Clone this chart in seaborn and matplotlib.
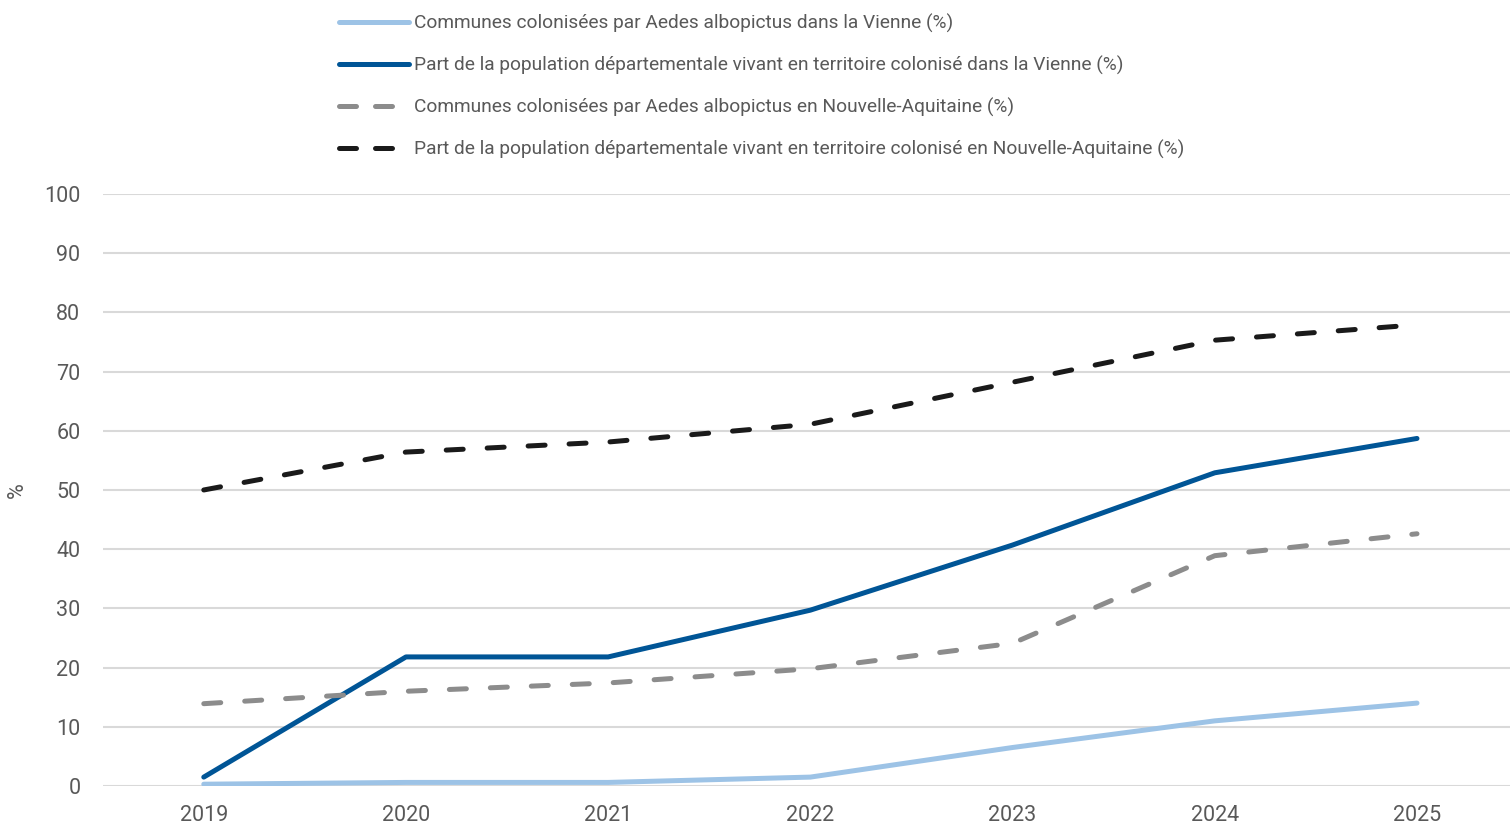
import matplotlib
matplotlib.use("Agg")
import matplotlib.pyplot as plt
from matplotlib.lines import Line2D
import seaborn as sns
import pandas as pd

# Données (%)
annees = [2019, 2020, 2021, 2022, 2023, 2024, 2025]
communes_vienne = [0.3, 0.6, 0.6, 1.5, 6.5, 11.0, 14.0]
population_vienne = [1.5, 21.8, 21.8, 29.7, 40.7, 52.9, 58.7]
communes_na = [13.9, 16.0, 17.4, 19.8, 24.1, 38.9, 42.6]
population_na = [50.0, 56.4, 58.1, 61.1, 68.2, 75.3, 77.9]

libelles = [
    "Communes colonisées par Aedes albopictus dans la Vienne (%)",
    "Part de la population départementale vivant en territoire colonisé dans la Vienne (%)",
    "Communes colonisées par Aedes albopictus en Nouvelle-Aquitaine (%)",
    "Part de la population départementale vivant en territoire colonisé en Nouvelle-Aquitaine (%)",
]
series = [communes_vienne, population_vienne, communes_na, population_na]
couleurs = ["#9dc3e6", "#005596", "#8c8c8c", "#1a1a1a"]
tirets = [None, None, (3.4, 4.8), (3.4, 4.8)]

sns.set_theme(style="white")
plt.rcParams["font.family"] = ["Roboto", "DejaVu Sans"]
texte = "#595959"

fig = plt.figure(figsize=(15.1, 8.25), dpi=100)
ax = fig.add_axes([0.068, 0.0473, 0.932, 0.7176])

x_pos = list(range(len(annees)))
handles = []
for vals, lab, col, ds in zip(series, libelles, couleurs, tirets):
    df = pd.DataFrame({"x": x_pos, "y": vals})
    sns.lineplot(data=df, x="x", y="y", ax=ax, color=col, linewidth=3.6,
                 legend=False, zorder=3)
    line = ax.lines[-1]
    line.set_solid_capstyle("round")
    line.set_dash_capstyle("round")
    if ds is not None:
        line.set_dashes(ds)
    h = Line2D([], [], color=col, linewidth=3.6, solid_capstyle="round",
               dash_capstyle="round")
    if ds is not None:
        h.set_dashes((3.4, 3.8))
    handles.append(h)

ax.set_ylim(0, 100)
ax.set_xlim(-0.5, 6.46)
ax.set_yticks(range(0, 101, 10))
ax.set_xticks(x_pos)
ax.set_xticklabels([str(a) for a in annees])
ax.yaxis.grid(True, color="#d9d9d9", linewidth=1.5, zorder=0)
ax.xaxis.grid(False)
for s in ax.spines.values():
    s.set_visible(False)
ax.tick_params(axis="y", length=0, pad=16, labelsize=15.5, labelcolor=texte)
ax.tick_params(axis="x", length=0, pad=13.5, labelsize=15.5, labelcolor=texte)
ax.set_xlabel("")
ax.set_ylabel("%", fontsize=15.5, color=texte, labelpad=12)

fig.legend(handles=handles, labels=libelles, loc="upper left",
           bbox_to_anchor=(331 / 1510, 1 - 6 / 825), frameon=False,
           fontsize=13.8, labelcolor=texte, handlelength=3.65, handletextpad=0.3,
           labelspacing=1.19, borderaxespad=0)

fig.savefig("out.png", dpi=100)
